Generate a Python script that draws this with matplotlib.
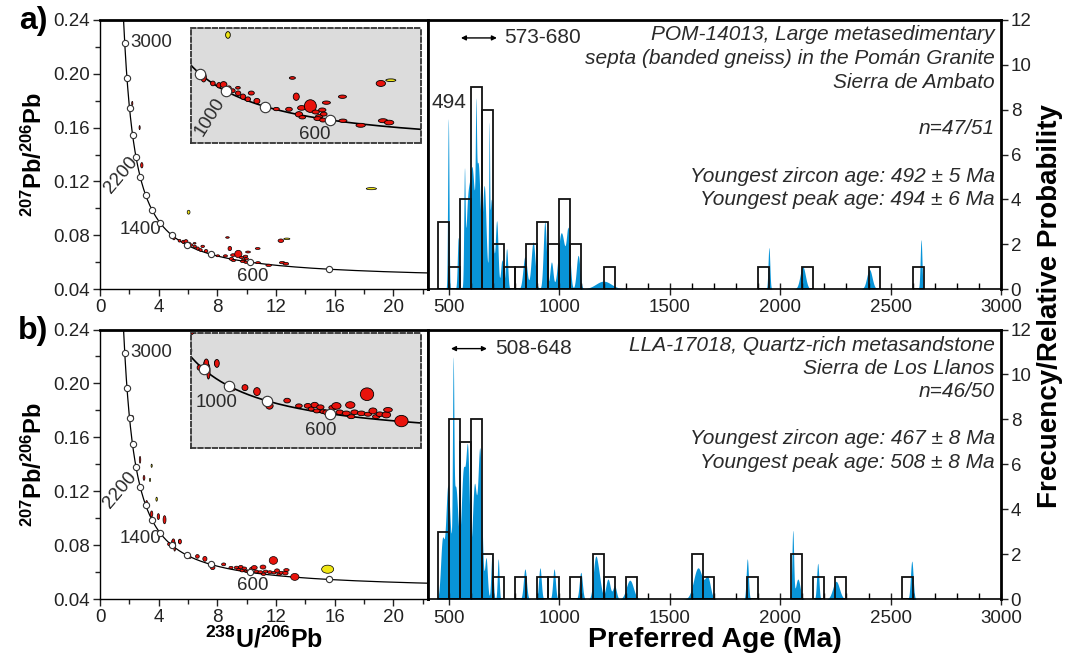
import numpy as np
import matplotlib
matplotlib.use("Agg")
import matplotlib.pyplot as plt
from matplotlib.patches import Ellipse

plt.rcParams['font.family'] = ['Liberation Sans', 'DejaVu Sans']
plt.rcParams['mathtext.fontset'] = 'custom'
plt.rcParams['mathtext.rm'] = 'Liberation Sans'
plt.rcParams['mathtext.bf'] = 'Liberation Sans:bold'
plt.rcParams['mathtext.it'] = 'Liberation Sans:italic'

# ---------------- data ----------------
# histogram, 50 Ma bins (left edge, count)
bins_a = [450, 500, 550, 600, 650, 700, 750, 800, 850, 900, 950, 1000, 1050,
          1200, 1900, 2100, 2400, 2600]
counts_a = [3, 1, 4, 9, 8, 2, 1, 1, 2, 3, 2, 4, 2, 1, 1, 1, 1, 1]
bins_b = [450, 500, 550, 600, 650, 700, 800, 900, 950, 1050, 1150, 1200, 1300,
          1600, 1650, 1850, 2050, 2150, 2250, 2550]
counts_b = [3, 8, 7, 8, 2, 1, 1, 1, 1, 1, 2, 1, 1, 2, 1, 1, 2, 1, 1, 1]

# probability density peaks (age Ma, height, width Ma)
pk_age_a = [497, 542, 570, 585, 605, 622, 632, 660, 682, 692, 716, 740, 761, 844, 881,
            934, 964, 1005, 1022, 1040, 1085, 1200, 1949, 2102, 2404, 2638]
pk_h_a = [7.6, 2.3, 4.5, 3.5, 5.0, 4.0, 5.5, 4.5, 5.5, 4.0, 3.0, 1.3, 1.8, 1.45, 2.1,
          3.0, 1.2, 2.2, 1.0, 2.5, 1.5, 0.35, 1.85, 1.0, 0.87, 2.2]
pk_s_a = [3, 4, 3, 9, 10, 2.5, 10, 8, 2, 8, 6, 6, 5, 9, 9,
          7, 7, 12, 10, 8, 8, 35, 4, 12, 12, 4]

pk_age_b = [470, 495, 519, 530, 565, 585, 615, 640, 668, 695, 723, 844, 912, 976,
            1097, 1163, 1180, 1220, 1250, 1319, 1628, 1672, 1851, 2057, 2080, 2170,
            2253, 2596]
pk_h_b = [2.5, 5.0, 7.2, 5.0, 5.5, 6.0, 5.0, 6.5, 1.8, 2.0, 1.8, 1.35, 1.4, 1.35,
          1.2, 1.7, 0.8, 0.9, 0.6, 0.85, 1.4, 0.9, 1.8, 3.0, 0.9, 1.6, 0.8, 1.7]
pk_s_b = [8, 10, 3, 12, 10, 8, 10, 9, 6, 5, 4, 7, 6, 6,
          7, 10, 10, 10, 8, 16, 20, 12, 5, 4, 10, 5, 15, 6]

# concordia age markers (Ma)
conc_marks = np.arange(400, 3001, 200)

# U-Pb ellipses: 238U/206Pb, 207Pb/206Pb, half-width, half-height, colour
ell_x_a = [6.04, 5.04, 5.42, 5.67, 5.86, 6.08, 6.24, 6.45, 6.46, 6.66, 6.86, 7.0, 7.23,
           8.03, 8.55, 8.69, 8.85, 8.96, 9.07, 9.43, 9.65, 9.79, 9.92, 9.98, 10.09,
           9.74, 9.95, 10.75, 10.77, 11.5, 12.33, 12.74, 12.42, 12.67, 9.1,
           2.2, 2.7, 2.85, 18.5]
ell_y_a = [0.0971, 0.0786, 0.0759, 0.0751, 0.0754, 0.0738, 0.0727, 0.0740, 0.0716, 0.0701,
           0.0690, 0.0717, 0.0682, 0.0647, 0.0646, 0.0783, 0.0701, 0.0624, 0.0652, 0.0660,
           0.0634, 0.0614, 0.0643, 0.0625, 0.0675, 0.0605, 0.0599, 0.0701, 0.0596, 0.0576,
           0.0759, 0.0773, 0.0596, 0.0588, 0.0611, 0.178, 0.160, 0.132, 0.1146]
ell_rx_a = [0.096, 0.11, 0.096, 0.096, 0.137, 0.096, 0.096, 0.096, 0.11, 0.11, 0.11, 0.124,
            0.124, 0.124, 0.137, 0.124, 0.124, 0.151, 0.165, 0.247, 0.151, 0.151, 0.151,
            0.137, 0.165, 0.165, 0.137, 0.165, 0.165, 0.192, 0.192, 0.206, 0.192, 0.192,
            0.137, 0.04, 0.04, 0.08, 0.35]
ell_ry_a = [0.00146, 0.00204, 0.00102, 0.00117, 0.00131, 0.00102, 0.00087, 0.00058, 0.00102,
            0.00117, 0.00102, 0.00087, 0.00117, 0.00073, 0.00087, 0.00058, 0.0016, 0.00117,
            0.00102, 0.00277, 0.00087, 0.00087, 0.00087, 0.00087, 0.00073, 0.00087, 0.00087,
            0.00073, 0.00073, 0.00087, 0.00131, 0.00058, 0.00087, 0.00102, 0.00073,
            0.0015, 0.0015, 0.002, 0.0008]
ell_c_a = ['y'] + ['r'] * 30 + ['y', 'r', 'r', 'r', 'r', 'r', 'r', 'y']

ell_x_b = [4.71, 4.99, 5.09, 5.42, 6.13, 6.64, 7.15, 7.68, 8.43, 8.93, 9.31, 9.45, 9.6,
           9.69, 9.84, 9.98, 10.37, 10.52, 10.66, 10.94, 11.11, 11.29, 11.58, 11.82, 11.86,
           12.07, 12.21, 12.36, 12.64, 12.71, 13.28, 10.09, 11.15,
           2.23, 2.73, 3.52, 3.41, 3.86, 3.0, 3.18, 3.52, 3.98, 4.40, 5.0, 5.45, 15.52]
ell_y_b = [0.0809, 0.0824, 0.0791, 0.0829, 0.0711, 0.0718, 0.0700, 0.0635, 0.0659, 0.0635,
           0.0635, 0.0621, 0.0639, 0.0612, 0.0629, 0.0609, 0.0627, 0.0635, 0.0606, 0.0601,
           0.0639, 0.0606, 0.0601, 0.0688, 0.0597, 0.0612, 0.0586, 0.0597, 0.0594, 0.0617,
           0.0566, 0.0606, 0.0586,
           0.175, 0.1434, 0.139, 0.1285, 0.1142, 0.130, 0.111, 0.1033, 0.1013, 0.0990,
           0.0828, 0.0828, 0.0623]
ell_rx_b = [0.1, 0.1, 0.07, 0.07, 0.085, 0.127, 0.142, 0.156, 0.142, 0.142, 0.156, 0.127,
            0.156, 0.142, 0.156, 0.156, 0.17, 0.198, 0.156, 0.17, 0.198, 0.156, 0.17, 0.283,
            0.156, 0.17, 0.156, 0.156, 0.184, 0.184, 0.283, 0.142, 0.156,
            0.04, 0.05, 0.04, 0.04, 0.05, 0.06, 0.07, 0.08, 0.08, 0.1, 0.1, 0.1, 0.41]
ell_ry_b = [0.0012, 0.0017, 0.0034, 0.0014, 0.00076, 0.00136, 0.0018, 0.0015, 0.00106,
            0.00091, 0.00106, 0.00091, 0.00121, 0.00091, 0.00106, 0.00091, 0.00106, 0.0015,
            0.00106, 0.00106, 0.0015, 0.00106, 0.00106, 0.00288, 0.00091, 0.00136, 0.00091,
            0.00106, 0.00136, 0.00106, 0.00258, 0.00106, 0.00091,
            0.0012, 0.0025, 0.0012, 0.0012, 0.0015, 0.0018, 0.0022, 0.0022, 0.0022, 0.003,
            0.002, 0.0018, 0.0030]
ell_c_b = ['r'] * 33 + ['r', 'r', 'y', 'y', 'y', 'r', 'r', 'r', 'r', 'r', 'r', 'r', 'y']

texts_a = ["POM-14013, Large metasedimentary",
           "septa (banded gneiss) in the Pomán Granite",
           "Sierra de Ambato", "", "n=47/51", "",
           "Youngest zircon age: 492 ± 5 Ma",
           "Youngest peak age: 494 ± 6 Ma"]
texts_b = ["LLA-17018, Quartz-rich metasandstone",
           "Sierra de Los Llanos", "n=46/50", "",
           "Youngest zircon age: 467 ± 8 Ma",
           "Youngest peak age: 508 ± 8 Ma"]

# ---------------- helpers ----------------
L238, L235, U85 = 1.55125e-10, 9.8485e-10, 137.88


def tw(t_ma):
    t = np.asarray(t_ma, float) * 1e6
    e8 = np.exp(L238 * t) - 1
    e5 = np.exp(L235 * t) - 1
    return 1 / e8, e5 / e8 / U85


RED, YEL = '#e8130c', '#f0e614'
BLUE = '#0894d8'
TXT = '#2a2a2a'
FS = 13.5


def draw_ellipses(ax, xs, ys, rxs, rys, cs, lw):
    for x, y, rx, ry, c in zip(xs, ys, rxs, rys, cs):
        ax.add_patch(Ellipse((x, y), 2 * rx, 2 * ry,
                             facecolor=RED if c == 'r' else YEL,
                             edgecolor='black', lw=lw, zorder=3))


def concordia(ax, lw, ms):
    t = np.linspace(150, 4000, 2000)
    cx, cy = tw(t)
    ax.plot(cx, cy, color='black', lw=lw, zorder=2)
    mx, my = tw(conc_marks)
    ax.plot(mx, my, 'o', mfc='white', mec='#333333', mew=0.8, ms=ms, zorder=4)


W, H = 1073, 662
fig = plt.figure(figsize=(W / 100, H / 100), dpi=100)


def box(x0, y0, x1, y1):
    return [x0 / W, 1 - y1 / H, (x1 - x0) / W, (y1 - y0) / H]


rows = [
    dict(top=20, bot=289, ex=ell_x_a, ey=ell_y_a, erx=ell_rx_a, ery=ell_ry_a, ec=ell_c_a,
         bins=bins_a, counts=counts_a, pa=pk_age_a, ph=pk_h_a, ps=pk_s_a,
         texts=texts_a, ys0=35,
         inset=[0.276, 0.544, 0.704, 0.425], ixl=(4.5, 14.0), iyl=(0.05, 0.10),
         lab600=(10.38, 0.0491), lab1400=(2.73, 0.0839), lab2200=(1.41, 0.1248),
         i1000=(5.28, 0.0614, 58), i600=(9.61, 0.0534),
         arrow=(554, 717, 11.2), range_txt="573-680", tag="a)"),
    dict(top=329.5, bot=599.3, ex=ell_x_b, ey=ell_y_b, erx=ell_rx_b, ery=ell_ry_b, ec=ell_c_b,
         bins=bins_b, counts=counts_b, pa=pk_age_b, ph=pk_h_b, ps=pk_s_b,
         texts=texts_b, ys0=345,
         inset=[0.276, 0.562, 0.704, 0.424], ixl=(4.33, 14.13), iyl=(0.0445, 0.0965),
         lab600=(10.38, 0.0499), lab1400=(2.73, 0.0853), lab2200=(1.36, 0.121),
         i1000=(5.42, 0.0651, 0), i600=(9.84, 0.0525),
         arrow=(509, 672, 11.15), range_txt="508-648", tag="b)"),
]

ages = np.linspace(405, 3000, 6000)

for i, r in enumerate(rows):
    # ---- concordia panel ----
    ax = fig.add_axes(box(100, r['top'], 428, r['bot']))
    concordia(ax, 0.9, 4.5)
    draw_ellipses(ax, r['ex'], r['ey'], r['erx'], r['ery'], r['ec'], 0.5)
    ax.set_xlim(0, 22.36)
    ax.set_ylim(0.04, 0.24)
    ax.set_xticks(np.arange(0, 21, 4))
    ax.set_xticks(np.arange(2, 23, 4), minor=True)
    ax.set_yticks(np.arange(0.04, 0.241, 0.04))
    ax.set_yticks(np.arange(0.06, 0.23, 0.04), minor=True)
    ax.set_yticklabels([f"{v:.2f}" for v in np.arange(0.04, 0.241, 0.04)])
    ax.tick_params(which='both', direction='out', labelsize=FS, colors='#222222',
                   length=5, width=1, pad=2)
    ax.tick_params(which='minor', length=3.5)
    for s in ax.spines.values():
        s.set_linewidth(1.0)
    ax.spines['top'].set_linewidth(2)
    ax.spines['right'].set_linewidth(2)
    ax.set_ylabel(r'$\mathbf{^{207}Pb/^{206}Pb}$', fontsize=17, labelpad=5)
    if i == 1:
        ax.set_xlabel(r'$\mathbf{^{238}U/^{206}Pb}$', fontsize=18, labelpad=0)
    ax.text(2.1, 0.223, "3000", fontsize=FS, color=TXT, va='center', ha='left')
    ax.text(*r['lab2200'], "2200", fontsize=FS, color=TXT, va='center', ha='center',
            rotation=50)
    ax.text(*r['lab1400'], "1400", fontsize=FS, color=TXT, va='center', ha='center')
    ax.text(*r['lab600'], "600", fontsize=FS, color=TXT, va='center', ha='center')
    fig.text(33 / W, 1 - (r['top'] + 1) / H, r['tag'], fontsize=23, fontweight='bold',
             ha='center', va='center')

    # ---- inset ----
    ia = ax.inset_axes(r['inset'])
    ia.set_facecolor('#dcdcdc')
    concordia(ia, 1.2, 7.5)
    draw_ellipses(ia, r['ex'], r['ey'], r['erx'], r['ery'], r['ec'], 0.6)
    ia.set_xlim(*r['ixl'])
    ia.set_ylim(*r['iyl'])
    ia.set_xticks([])
    ia.set_yticks([])
    for s in ia.spines.values():
        s.set_linestyle((0, (2.5, 1.5)))
        s.set_linewidth(1.3)
        s.set_color('#333333')
    x1k, y1k, rot = r['i1000']
    ia.text(x1k, y1k, "1000", fontsize=FS, color=TXT, rotation=rot,
            ha='center', va='center')
    ia.text(*r['i600'], "600", fontsize=FS, color=TXT, ha='center', va='center')

    # ---- histogram panel ----
    hx = fig.add_axes(box(428, r['top'], 1001, r['bot']))
    dens = np.zeros_like(ages)
    for c, h, s in zip(r['pa'], r['ph'], r['ps']):
        dens += h * np.exp(-0.5 * ((ages - c) / s) ** 2)
    hx.fill_between(ages, 0, dens, color=BLUE, lw=0, zorder=1)
    hx.bar(r['bins'], r['counts'], width=50, align='edge', fill=False,
           edgecolor='#111111', lw=1.3, zorder=2)
    hx.set_xlim(405, 3000)
    hx.set_ylim(0, 12)
    hx.set_xticks(np.arange(500, 3001, 500))
    hx.set_xticks(np.arange(500, 3001, 100), minor=True)
    hx.set_yticks(np.arange(0, 13, 2))
    hx.yaxis.tick_right()
    hx.tick_params(axis='x', which='major', direction='inout', length=9, width=1,
                   labelsize=FS, colors='#222222', pad=3)
    hx.tick_params(axis='x', which='minor', direction='in', length=4, width=1)
    hx.tick_params(axis='y', direction='out', length=5, width=1, labelsize=FS,
                   colors='#222222', pad=2)
    for s in hx.spines.values():
        s.set_linewidth(2)
    hx.spines['bottom'].set_linewidth(1.2)
    if i == 1:
        hx.set_xlabel("Preferred Age (Ma)", fontsize=20.5, fontweight='bold', labelpad=0)

    yy = r['ys0']
    for line in r['texts']:
        if line:
            fig.text(995 / W, 1 - yy / H, line, fontsize=15, style='italic', color=TXT,
                     ha='right', va='center')
        yy += 23.5

    a0, a1, ay = r['arrow']
    hx.annotate('', xy=(a1, ay), xytext=(a0, ay),
                arrowprops=dict(arrowstyle='<|-|>', color='black', lw=1,
                                mutation_scale=7, shrinkA=0, shrinkB=0))
    hx.text(a1 + 35, ay, r['range_txt'], fontsize=15, color=TXT, ha='left', va='center')
    if i == 0:
        hx.text(500, 8.3, "494", fontsize=15, color=TXT, ha='center', va='center')

fig.text(1050 / W, 1 - 306 / H, "Frecuency/Relative Probability", rotation=90,
         fontsize=20, fontweight='bold', ha='center', va='center')

fig.savefig("out.png", dpi=100)
